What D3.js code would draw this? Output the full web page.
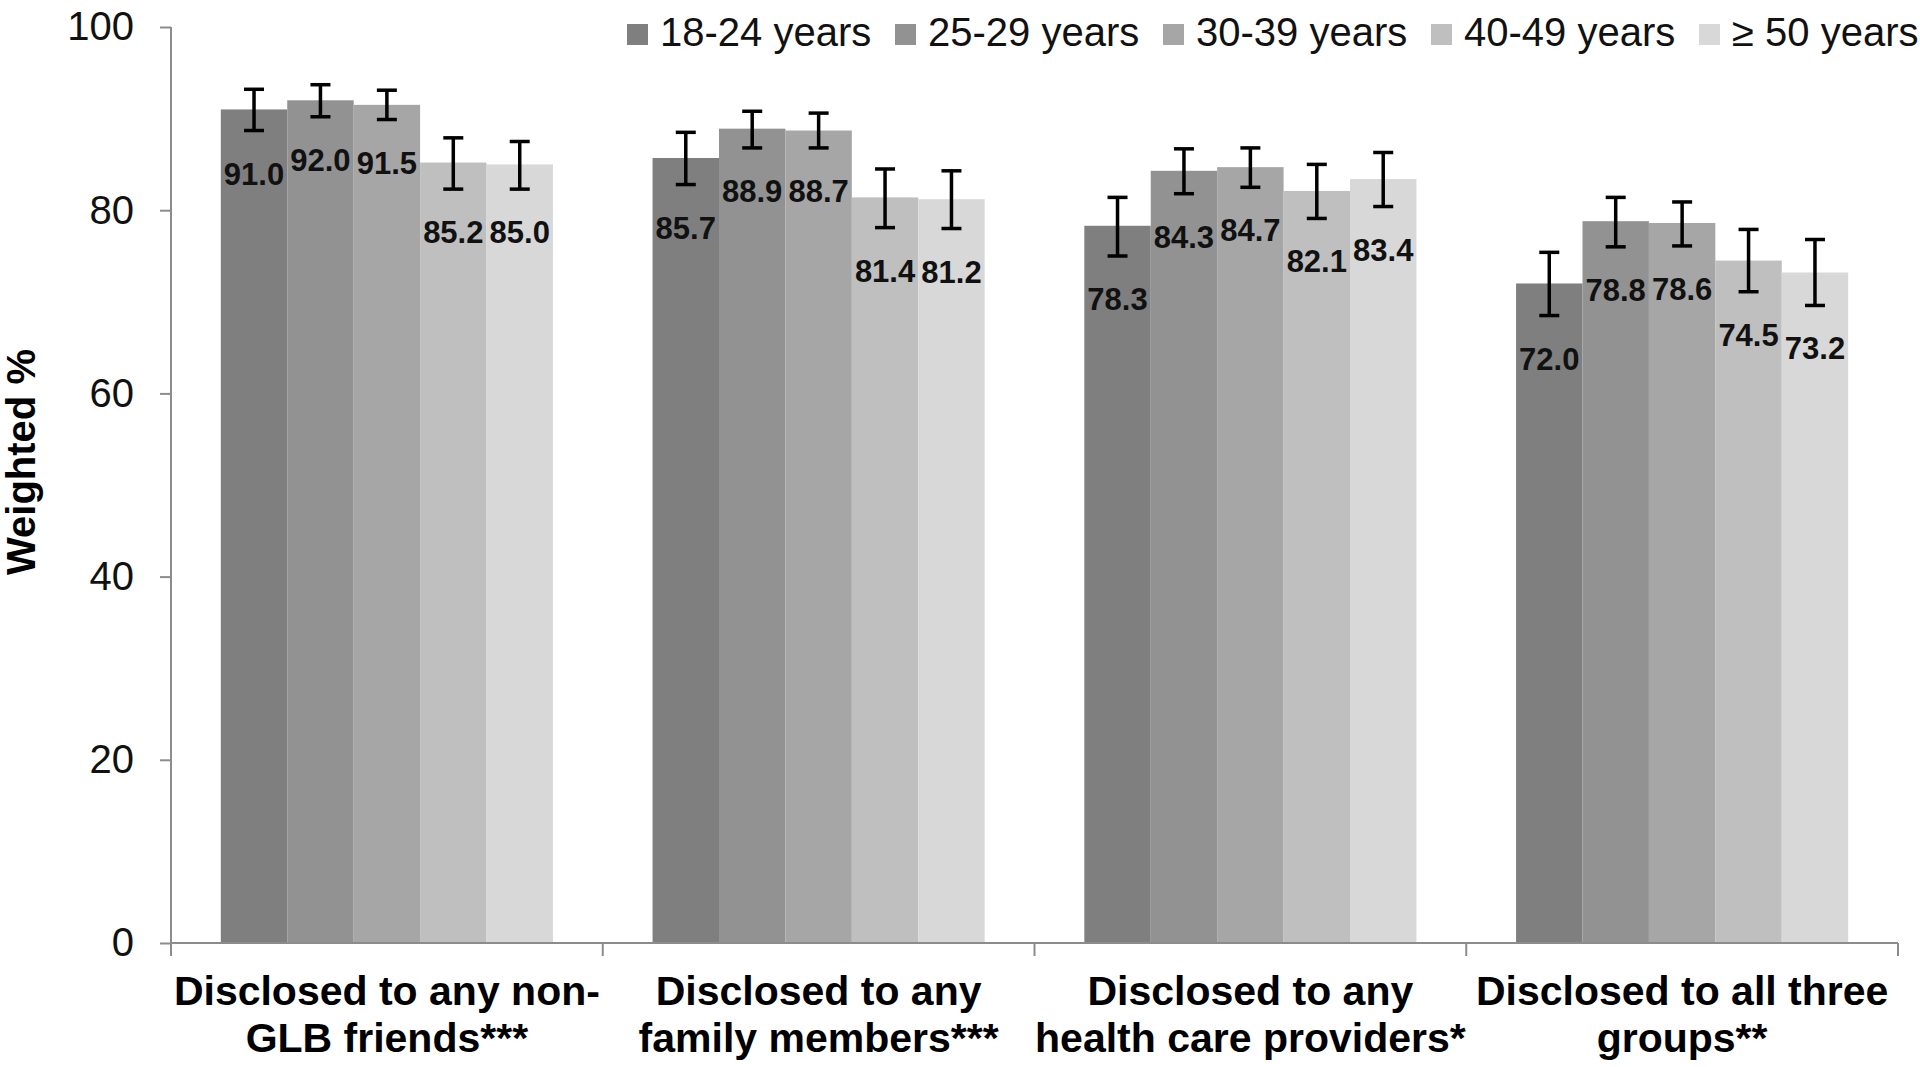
<!DOCTYPE html>
<html>
<head>
<meta charset="utf-8">
<script src="https://cdn.jsdelivr.net/npm/d3@7"></script>
<style>
  html, body { margin: 0; padding: 0; background: #ffffff; }
  svg { display: block; font-family: "Liberation Sans", Arial, sans-serif; }
</style>
</head>
<body>
<svg id="chart" width="1920" height="1067"></svg>
<script>
// ---- data ----
const categories = [
  "Disclosed to any non-\nGLB friends***",
  "Disclosed to any\nfamily members***",
  "Disclosed to any\nhealth care providers*",
  "Disclosed to all three\ngroups**"
];
const seriesNames = ["18-24 years", "25-29 years", "30-39 years", "40-49 years", "\u2265 50 years"];

const values18_24 = [91.0, 85.7, 78.3, 72.0];
const values25_29 = [92.0, 88.9, 84.3, 78.8];
const values30_39 = [91.5, 88.7, 84.7, 78.6];
const values40_49 = [85.2, 81.4, 82.1, 74.5];
const values50plus = [85.0, 81.2, 83.4, 73.2];

const lower18_24 = [88.7, 82.8, 75.0, 68.5];
const upper18_24 = [93.2, 88.5, 81.4, 75.4];
const lower25_29 = [90.2, 86.8, 81.8, 76.0];
const upper25_29 = [93.7, 90.8, 86.7, 81.4];
const lower30_39 = [89.9, 86.8, 82.5, 76.1];
const upper30_39 = [93.1, 90.6, 86.8, 80.9];
const lower40_49 = [82.3, 78.1, 79.1, 71.1];
const upper40_49 = [87.9, 84.5, 85.0, 77.9];
const lower50plus = [82.3, 78.0, 80.4, 69.6];
const upper50plus = [87.5, 84.3, 86.3, 76.8];

const yTicks = [0, 20, 40, 60, 80, 100];
const yTitle = "Weighted %";

(function () {
  const seriesValues = [values18_24, values25_29, values30_39, values40_49, values50plus];
  const seriesLower = [lower18_24, lower25_29, lower30_39, lower40_49, lower50plus];
  const seriesUpper = [upper18_24, upper25_29, upper30_39, upper40_49, upper50plus];
  const colors = ["#7f7f7f", "#929292", "#a6a6a6", "#bfbfbf", "#d8d8d8"];

  const rows = [];
  categories.forEach((c, ci) => {
    seriesNames.forEach((s, si) => {
      rows.push({cat: c, ser: s, si: si, v: seriesValues[si][ci], lo: seriesLower[si][ci], hi: seriesUpper[si][ci]});
    });
  });

  const svg = d3.select("#chart");
  const pLeft = 171, pRight = 1898, pTop = 27, pBottom = 943;
  const FONT = '"Liberation Sans", Arial, sans-serif';

  const x0 = d3.scaleBand().domain(categories).range([pLeft, pRight]).padding(0);
  const x1 = d3.scaleBand().domain(seriesNames).range([0, x0.bandwidth()]).paddingInner(0).paddingOuter(0.75);
  const y = d3.scaleLinear().domain([0, 100]).range([pBottom, pTop]);
  const color = d3.scaleOrdinal().domain(seriesNames).range(colors);

  // bars
  svg.append("g").selectAll("rect").data(rows).join("rect")
    .attr("x", d => x0(d.cat) + x1(d.ser))
    .attr("y", d => y(d.v))
    .attr("width", x1.bandwidth())
    .attr("height", d => y(0) - y(d.v))
    .attr("fill", d => color(d.ser));

  // error bars
  const eb = svg.append("g").attr("stroke", "#000").attr("stroke-width", 3.5).attr("fill", "none");
  rows.forEach(d => {
    const cx = x0(d.cat) + x1(d.ser) + x1.bandwidth() / 2;
    eb.append("line").attr("x1", cx).attr("x2", cx).attr("y1", y(d.hi)).attr("y2", y(d.lo));
    eb.append("line").attr("x1", cx - 10).attr("x2", cx + 10).attr("y1", y(d.hi)).attr("y2", y(d.hi));
    eb.append("line").attr("x1", cx - 10).attr("x2", cx + 10).attr("y1", y(d.lo)).attr("y2", y(d.lo));
  });

  // value labels
  svg.append("g").selectAll("text").data(rows).join("text")
    .attr("x", d => x0(d.cat) + x1(d.ser) + x1.bandwidth() / 2)
    .attr("y", d => y(d.lo) + 54)
    .attr("text-anchor", "middle")
    .attr("font-family", FONT)
    .attr("font-size", 31)
    .attr("font-weight", "bold")
    .attr("fill", "#111")
    .text(d => d.v.toFixed(1));

  // y axis
  const yAxis = svg.append("g").attr("transform", `translate(${pLeft},0)`)
    .call(d3.axisLeft(y).tickValues(yTicks).tickSize(11).tickPadding(26).tickFormat(d3.format("d")));
  yAxis.select(".domain").attr("stroke", "#8c8c8c").attr("stroke-width", 2).attr("d", `M0,${pTop}V${pBottom + 13}`);
  yAxis.selectAll(".tick line").attr("stroke", "#8c8c8c").attr("stroke-width", 2);
  yAxis.selectAll(".tick text").attr("font-family", FONT).attr("font-size", 40).attr("fill", "#111");

  // x axis
  const xAxis = svg.append("g").attr("transform", `translate(0,${pBottom})`);
  xAxis.append("line").attr("x1", pLeft).attr("x2", pRight).attr("y1", 0).attr("y2", 0)
    .attr("stroke", "#8c8c8c").attr("stroke-width", 2);
  const boundaries = categories.map(c => x0(c)).concat([x0(categories[categories.length - 1]) + x0.bandwidth()]);
  xAxis.selectAll("line.sep").data(boundaries).join("line").attr("class", "sep")
    .attr("x1", d => d).attr("x2", d => d).attr("y1", 0).attr("y2", 13)
    .attr("stroke", "#8c8c8c").attr("stroke-width", 2);

  const catLabels = svg.append("g");
  categories.forEach(c => {
    const cx = x0(c) + x0.bandwidth() / 2;
    const t = catLabels.append("text")
      .attr("x", cx)
      .attr("y", 1005)
      .attr("text-anchor", "middle")
      .attr("font-family", FONT)
      .attr("font-size", 41)
      .attr("font-weight", "bold")
      .attr("fill", "#000");
    c.split("\n").forEach((line, i) => {
      t.append("tspan").attr("x", cx).attr("dy", i === 0 ? 0 : 47).text(line);
    });
  });

  // y title
  svg.append("text")
    .attr("transform", "translate(35,462) rotate(-90)")
    .attr("text-anchor", "middle")
    .attr("font-family", FONT)
    .attr("font-size", 40)
    .attr("font-weight", "bold")
    .attr("fill", "#000")
    .text(yTitle);

  // legend
  const legend = svg.append("g");
  seriesNames.forEach((s, i) => {
    const lx = 627 + i * 268;
    legend.append("rect").attr("x", lx).attr("y", 24).attr("width", 21).attr("height", 21).attr("fill", color(s));
    legend.append("text").attr("x", lx + 33).attr("y", 46)
      .attr("font-family", FONT).attr("font-size", 40).attr("fill", "#111").text(s);
  });
})();
</script>
</body>
</html>
